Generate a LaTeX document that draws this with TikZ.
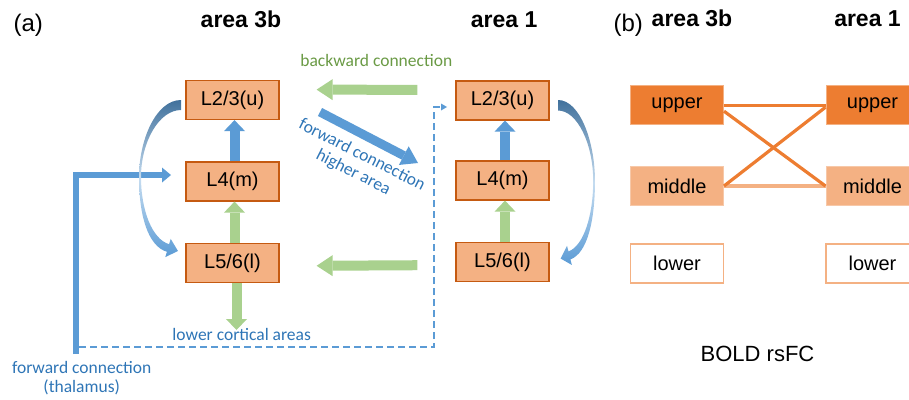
\documentclass[tikz,border=0pt]{standalone}
\usepackage{fontspec}
\setmainfont{Liberation Sans}
\newfontfamily\calfont{Carlito}
\usetikzlibrary{arrows.meta}
\definecolor{boxfill}{HTML}{F4B183}
\definecolor{boxdraw}{HTML}{C55A11}
\definecolor{orng}{HTML}{ED7D31}
\definecolor{bluA}{HTML}{5B9BD5}
\definecolor{bluD}{HTML}{41719C}
\definecolor{bluT}{HTML}{2E75B6}
\definecolor{bluL}{HTML}{C5DCF0}
\definecolor{grnA}{HTML}{A9D18E}
\definecolor{grnT}{HTML}{6A9A45}
\begin{document}
\begin{tikzpicture}[x=1pt,y=-1pt,
 lyr/.style={draw=boxdraw, line width=1.2pt, fill=boxfill, minimum width=93pt, minimum height=39pt, inner sep=0pt, font=\fontsize{20}{24}\selectfont},
 bxb/.style={minimum width=93pt, minimum height=39pt, inner sep=0pt, font=\fontsize{20}{24}\selectfont, line width=1pt},
 hdr/.style={font=\fontsize{23}{27}\selectfont\bfseries, anchor=base},
 pnl/.style={font=\fontsize{24}{28}\selectfont, anchor=base},
 lbl/.style={font=\calfont\fontsize{17.5}{19.5}\selectfont},
 blkB/.style={draw=bluA, line width=10pt, -{Triangle[width=21pt,length=11pt,line width=0pt]}},
 blkG/.style={draw=grnA, line width=10pt, -{Triangle[width=21pt,length=11pt,line width=0pt]}},
 blkH/.style={line width=10pt, -{Triangle[width=21pt,length=16pt,line width=0pt]}},
 bline/.style={line width=3.2pt, draw=orng},
 lcurve/.pic={\shade[top color=bluD, bottom color=bluA, middle color=bluL]
   (0,0) .. controls (-25,0) and (-42,40) .. (-42,77)
   .. controls (-42,115) and (-33.3,146) .. (-14.1,151.8)
   -- (-15.7,157.1) -- (-3,151) -- (-10.3,138.9) -- (-11.9,144.2)
   .. controls (-29.1,139) and (-40,110) .. (-40,77)
   .. controls (-40,42) and (-22,10) .. (0,10) -- cycle;}
]
\useasboundingbox (0,0) rectangle (909,399);
\clip (0,0) rectangle (909,399);

% panel (a) boxes
\node[lyr] (a3u) at (232.5,100) {L2/3(u)};
\node[lyr] (a3m) at (232.5,181.5) {L4(m)};
\node[lyr] (a3l) at (232.5,263) {L5/6(l)};
\node[lyr] (a1u) at (502.5,100.5) {L2/3(u)};
\node[lyr] (a1m) at (502.5,180.5) {L4(m)};
\node[lyr] (a1l) at (502.5,262) {L5/6(l)};

% headings
\node[pnl] (pa) at (28.3,31) {(a)};
\node[hdr] (h3a) at (241,27.3) {area 3b};
\node[hdr] (h1a) at (504.2,27.3) {area 1};
\node[pnl] (pb) at (628.3,31.7) {(b)};
\node[hdr] (h3b) at (692,26.7) {area 3b};
\node[hdr] (h1b) at (867.5,26.7) {area 1};

% vertical arrows
\draw[blkB] ([xshift=2pt]a3m.north) -- ([xshift=2pt]a3u.south);
\draw[blkG] ([xshift=2pt]a3l.north) -- ([xshift=2pt]a3m.south);
\coordinate (lca) at (236.5,330);
\draw[blkG] (a3l.south -| lca) -- (lca);
\draw[blkB] ([xshift=2.5pt]a1m.north) -- ([xshift=2.5pt]a1u.south);
\draw[blkG] ([xshift=2.5pt]a1l.north) -- ([xshift=2.5pt]a1m.south);

% backward connections
\draw[blkH, draw=grnA, shorten <=38pt, shorten >=37pt] ([yshift=10.5pt]a1u.west) -- ([yshift=10.5pt]a3u.east);
\draw[blkH, draw=grnA, shorten <=38pt, shorten >=37pt] ([yshift=-3pt]a1l.west) -- ([yshift=-3pt]a3l.east);

% forward connection to higher area
\coordinate (fw1) at (320,112);
\coordinate (fw2) at (418,163);
\draw[blkH, draw=bluA, line width=9pt] (fw1) -- (fw2);

% thalamus input
\coordinate (thb) at (76,354);
\coordinate (thtip) at (171,175);
\draw[line width=6.5pt, draw=bluA, -{Triangle[width=15pt,length=9pt,line width=0pt]}] (thb) |- (thtip);

% dashed line
\coordinate (dsh) at (79,347);
\coordinate (dc) at (434,107);
\coordinate (dtip) at (447,107);
\draw[line width=1.8pt, draw=bluA, dash pattern=on 7pt off 4pt, -{Triangle[width=7pt,length=6pt,line width=0pt]}] (dsh) -| (dc) -- (dtip);

% curved arrows
\pic at (181,100) {lcurve};
\pic[xscale=-0.88, yscale=1.05] at (558,100) {lcurve};

% labels
\node[lbl, text=grnT, anchor=base] (bwl) at (376.3,66.7) {backward connection};
\node[lbl, text=bluT, anchor=base] (lcl) at (241.7,340) {lower cortical areas};
\node[lbl, text=bluT, anchor=base] (fwt1) at (81.7,373.3) {forward connection};
\node[lbl, text=bluT, anchor=base] (fwt2) at (81.7,392) {(thalamus)};
\node[lbl, text=bluT, rotate=-27, align=center] (fwh) at (357.5,164) {forward connection\\higher area};

% panel (b)
\node[bxb, fill=orng, draw=boxfill] (bu3) at (677,105.2) {upper};
\node[bxb, fill=boxfill, draw=boxfill!70] (bm3) at (677,186) {middle};
\node[bxb, fill=white, draw=boxfill, line width=1.5pt] (bl3) at (677,263.3) {lower};
\node[bxb, fill=orng, draw=boxfill] (bu1) at (872.5,105.2) {upper};
\node[bxb, fill=boxfill, draw=boxfill!70] (bm1) at (872.5,186) {middle};
\node[bxb, fill=white, draw=boxfill, line width=1.5pt] (bl1) at (872.5,263.3) {lower};

\draw[bline, draw=boxfill] (bm3.east) -- (bm1.west);
\draw[bline] (bu3.east) -- (bu1.west);
\draw[bline] ([yshift=-6pt]bu3.east) -- (bm1.west);
\draw[bline] (bm3.east) -- ([yshift=-2pt]bu1.west);

\node[font=\fontsize{22}{26}\selectfont, anchor=base] (bold) at (757.5,361.7) {BOLD rsFC};
\end{tikzpicture}
\end{document}
